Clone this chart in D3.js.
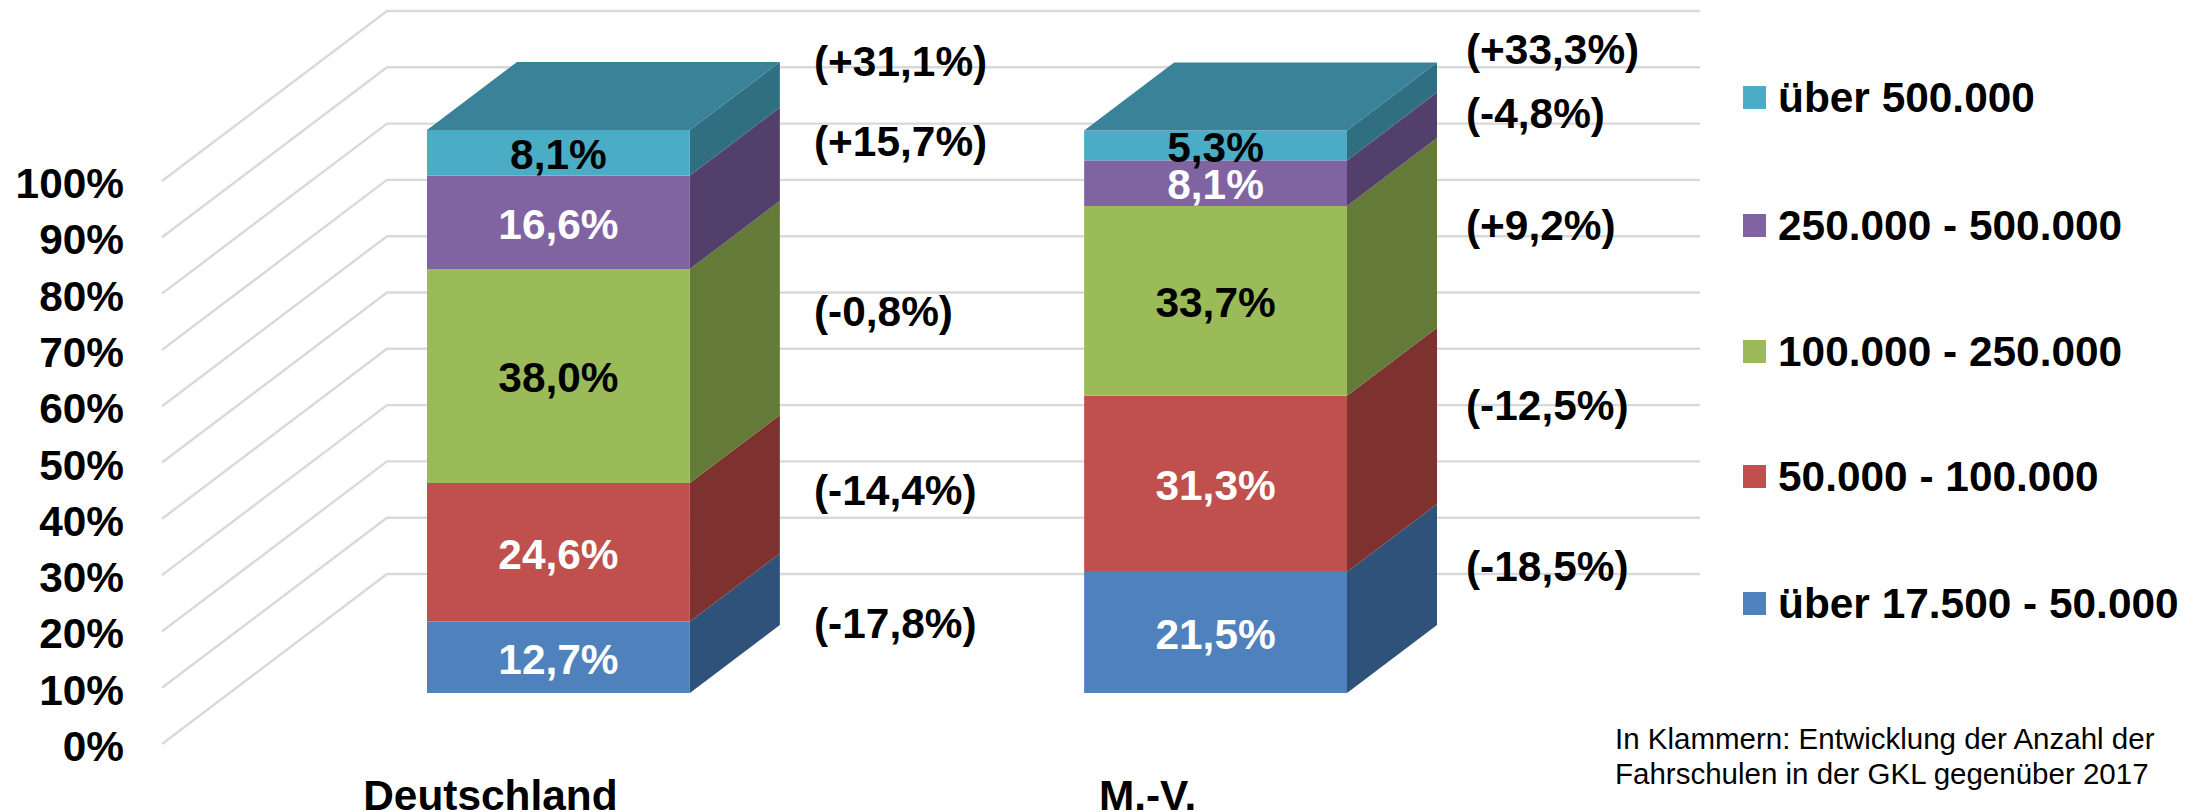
<!DOCTYPE html>
<html><head><meta charset="utf-8">
<script src="https://cdn.jsdelivr.net/npm/d3@7/dist/d3.min.js"></script>
<style>html,body{margin:0;padding:0;background:#fff}svg{display:block}text{font-family:"Liberation Sans",Arial,sans-serif}</style>
</head><body><svg id="c" width="2208" height="812"></svg>
<script>
const categories = ["Deutschland", "M.-V."];
const seriesNames = ["über 17.500 - 50.000", "50.000 - 100.000", "100.000 - 250.000", "250.000 - 500.000", "über 500.000"];
const deutschland = [12.7, 24.6, 38.0, 16.6, 8.1];
const mv = [21.5, 31.3, 33.7, 8.1, 5.3];
const deutschlandChange = ["(-17,8%)", "(-14,4%)", "(-0,8%)", "(+15,7%)", "(+31,1%)"];
const mvChange = ["(-18,5%)", "(-12,5%)", "(+9,2%)", "(-4,8%)", "(+33,3%)"];
const yTicks = [0, 10, 20, 30, 40, 50, 60, 70, 80, 90, 100];
const footnote = ["In Klammern: Entwicklung der Anzahl der", "Fahrschulen in der GKL gegenüber 2017"];

// layout
const frontColors = ["#4f81bd", "#c0504d", "#9bbb59", "#8064a2", "#4bacc6"];
const sideColors = ["#2f527a", "#7d3230", "#647a38", "#533f6b", "#306f82"];
const topColor = "#3a8298";
const labelColors = ["#fff", "#fff", "#000", "#fff", "#000"];
const depthX = 90, depthY = 68;
const calloutY = [[623, 490, 311, 141, 61], [566, 405, 225, 113, 49]];
const calloutX = [814, 1466];
const legendY = [603, 476, 351, 225, 97];
const bigFont = 42.4, noteFont = 29.5;

const svg = d3.select("#c");
const x = d3.scaleBand().domain(categories).range([427, 1347]).paddingInner(0.6).paddingOuter(0);
const y = d3.scaleLinear().domain([0, 100]).range([693, 130]);
const wallFront = d3.scaleLinear().domain([0, 100]).range([744, 181]);
const wallBack = d3.scaleLinear().domain([0, 100]).range([574, 11]);

// gridlines
svg.append("g").selectAll("path").data(yTicks).join("path")
  .attr("fill", "none").attr("stroke", "#d9d9d9").attr("stroke-width", 2.4)
  .attr("d", t => d3.line()([[162, wallFront(t)], [387, wallBack(t)], [1700, wallBack(t)]]));

// y axis
const yAxis = svg.append("g").attr("transform", "translate(124,3)")
  .call(d3.axisLeft(wallFront).tickValues(yTicks).tickFormat(d => d + "%").tickSize(0).tickPadding(0));
yAxis.select(".domain").remove();
yAxis.selectAll("text").attr("font-size", bigFont).attr("font-weight", "bold").attr("fill", "#000")
  .style("font-family", '"Liberation Sans"');

// bars
[deutschland, mv].forEach((vals, c) => {
  const x0 = x(categories[c]), w = x.bandwidth(), x1 = x0 + w;
  const stack = d3.cumsum(vals);
  const g = svg.append("g");
  const total = stack[stack.length - 1];
  vals.forEach((v, i) => {
    const lo = i ? stack[i - 1] : 0, hi = stack[i];
    g.append("path").attr("fill", sideColors[i])
      .attr("d", d3.line()([[x1, y(lo)], [x1 + depthX, y(lo) - depthY], [x1 + depthX, y(hi) - depthY], [x1, y(hi)]]) + "Z");
    g.append("rect").attr("x", x0).attr("y", y(hi)).attr("width", w).attr("height", y(lo) - y(hi)).attr("fill", frontColors[i]);
  });
  vals.forEach((v, i) => {
    const lo = i ? stack[i - 1] : 0, hi = stack[i];
    g.append("text").attr("x", x0 + w / 2).attr("y", (y(lo) + y(hi)) / 2 + 1).attr("dy", "0.36em")
      .attr("text-anchor", "middle").attr("font-size", bigFont).attr("font-weight", "bold")
      .attr("fill", labelColors[i]).text(v.toFixed(1).replace(".", ",") + "%");
  });
  g.append("path").attr("fill", topColor)
    .attr("d", d3.line()([[x0, y(total)], [x0 + depthX, y(total) - depthY], [x1 + depthX, y(total) - depthY], [x1, y(total)]]) + "Z");
  // callouts
  (c ? mvChange : deutschlandChange).forEach((t, i) => {
    svg.append("text").attr("x", calloutX[c]).attr("y", calloutY[c][i]).attr("dy", "0.36em")
      .attr("font-size", bigFont).attr("font-weight", "bold").attr("fill", "#000").text(t);
  });
  svg.append("text").attr("x", x0 + w / 2 - 68).attr("y", 795).attr("dy", "0.36em")
    .attr("text-anchor", "middle").attr("font-size", bigFont).attr("font-weight", "bold").attr("fill", "#000").text(categories[c]);
});

// legend
seriesNames.forEach((s, i) => {
  svg.append("rect").attr("x", 1743).attr("y", legendY[i] - 11).attr("width", 23).attr("height", 23).attr("fill", frontColors[i]);
  svg.append("text").attr("x", 1778).attr("y", legendY[i]).attr("dy", "0.36em")
    .attr("font-size", bigFont).attr("font-weight", "bold").attr("fill", "#000").text(s);
});

// footnote
footnote.forEach((t, i) => {
  svg.append("text").attr("x", 1615).attr("y", 738 + i * 35).attr("dy", "0.36em")
    .attr("font-size", noteFont).attr("fill", "#000").text(t);
});
</script></body></html>
